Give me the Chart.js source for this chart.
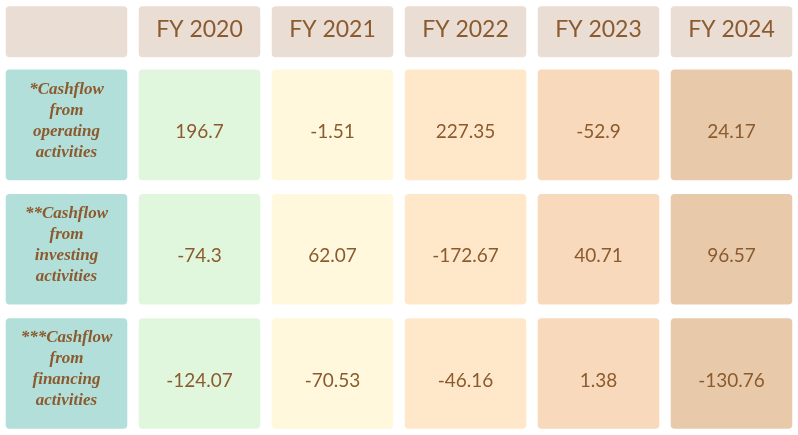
<!DOCTYPE html>
<html>
<head>
<meta charset="utf-8">
<script src="https://cdn.jsdelivr.net/npm/chart.js@4.4.1/dist/chart.umd.min.js"></script>
<style>
  html, body { margin: 0; padding: 0; background: #ffffff; }
  #wrap { width: 798px; height: 435px; position: relative; }
</style>
</head>
<body>
<div id="wrap"><canvas id="cashflowTable"></canvas></div>
<script>
// ================================================
// Data
// ================================================

const years = ['FY 2020', 'FY 2021', 'FY 2022', 'FY 2023', 'FY 2024'];

const rowLabels = [
  ['*Cashflow', 'from', 'operating', 'activities'],
  ['**Cashflow', 'from', 'investing', 'activities'],
  ['***Cashflow', 'from', 'financing', 'activities']
];

const operating = [196.7, -1.51, 227.35, -52.9, 24.17];
const investing = [-74.3, 62.07, -172.67, 40.71, 96.57];
const financing = [-124.07, -70.53, -46.16, 1.38, -130.76];

const rowValues = [operating, investing, financing];

// ================================================
// Styles
// ================================================

const textColor = '#8b5a2e';
const headerColor = '#e9ddd4';
const labelColor = '#b2dfd9';
const yearColors = ['#e1f7dd', '#fff8dc', '#ffe8ca', '#f8d9bb', '#e8caab'];

// column keys: first column holds the row labels
const columnKeys = [''].concat(years);

// row bands on the (reversed) y scale: header is a thin band, body rows take one unit each
function headerSpan() { return [0.05, 0.46]; }
function bodySpan(i) { return [i + 1 - 0.44, i + 1 + 0.45]; }

const datasets = [
  {
    label: 'header',
    data: columnKeys.map(() => headerSpan()),
    backgroundColor: headerColor
  }
].concat(rowValues.map((vals, i) => ({
  label: 'row' + i,
  data: columnKeys.map(() => bodySpan(i)),
  backgroundColor: [labelColor].concat(yearColors)
})));

datasets.forEach(ds => {
  ds.grouped = false;
  ds.borderRadius = 4;
  ds.borderSkipped = false;
  ds.barPercentage = 0.914;
  ds.categoryPercentage = 1.0;
});

// ================================================
// Cell text plugin
// ================================================

const cellText = {
  id: 'cellText',
  afterDatasetsDraw(chart) {
    const ctx = chart.ctx;
    ctx.save();
    ctx.fillStyle = textColor;
    ctx.textAlign = 'center';
    ctx.textBaseline = 'middle';

    // header row
    const headerMeta = chart.getDatasetMeta(0);
    ctx.font = '400 23px Lato';
    headerMeta.data.forEach((bar, j) => {
      if (j === 0) return;
      const c = bar.getCenterPoint();
      ctx.fillText(years[j - 1], c.x, c.y - 2);
    });

    // body rows
    rowValues.forEach((vals, i) => {
      const meta = chart.getDatasetMeta(i + 1);
      meta.data.forEach((bar, j) => {
        const c = bar.getCenterPoint();
        if (j === 0) {
          const lines = rowLabels[i];
          const lh = 21;
          ctx.font = 'italic bold 17px "Liberation Serif"';
          const top = c.y - 4 - (lines.length - 1) * lh / 2;
          lines.forEach((line, k) => ctx.fillText(line, c.x, top + k * lh));
        } else {
          ctx.font = '400 19px Lato';
          ctx.fillText(String(vals[j - 1]), c.x, c.y + 7);
        }
      });
    });
    ctx.restore();
  }
};

// ================================================
// Chart
// ================================================

new Chart(document.getElementById('cashflowTable'), {
  type: 'bar',
  data: {
    labels: columnKeys,
    datasets: datasets
  },
  options: {
    responsive: true,
    maintainAspectRatio: false,
    animation: false,
    layout: { padding: { left: -2, right: -1, top: 0, bottom: 0 } },
    plugins: {
      legend: { display: false },
      tooltip: { enabled: false }
    },
    scales: {
      x: { display: false, offset: true },
      y: { display: false, min: 0, max: 3.5, reverse: true }
    }
  },
  plugins: [cellText]
});
</script>
</body>
</html>
